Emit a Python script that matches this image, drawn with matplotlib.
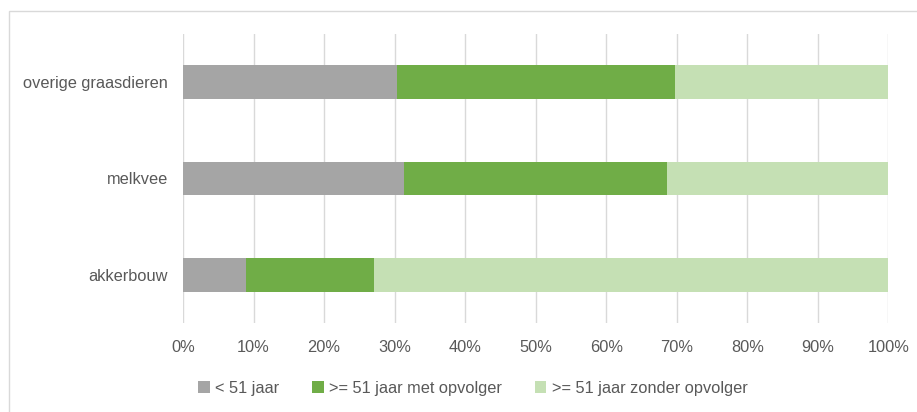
import matplotlib.pyplot as plt
import matplotlib.patches as plp
import matplotlib.ticker as mtick

# data (percent of farms)
categories = ['akkerbouw', 'melkvee', 'overige graasdieren']
under51 = [9.0, 31.3, 30.3]
over51_with = [18.1, 37.3, 39.4]
over51_without = [72.9, 31.4, 30.3]
seriesNames = ['< 51 jaar', '>= 51 jaar met opvolger', '>= 51 jaar zonder opvolger']
seriesColors = ['#a5a5a5', '#70ad47', '#c5e0b4']

plt.rcParams['font.family'] = ['Liberation Sans', 'DejaVu Sans']
textColor = '#595959'

fig = plt.figure(figsize=(9.17, 4.12), dpi=100)
ax = fig.add_axes([183 / 917, 1 - 323 / 412, 705.3 / 917, 289 / 412])

# light frame of the chart area (only top and left visible in the crop)
frame = plp.Rectangle((9 / 917, -0.1), 1.2, 1 - 11 / 412 + 0.1, transform=fig.transFigure,
                      facecolor='none', edgecolor='#d9d9d9', linewidth=1.0)
fig.patches.append(frame)

ypos = range(len(categories))
left = [0.0] * len(categories)
for name, vals, col in zip(seriesNames, [under51, over51_with, over51_without], seriesColors):
    ax.barh(ypos, vals, left=left, height=0.35, color=col, label=name, zorder=3)
    left = [l + v for l, v in zip(left, vals)]

ax.set_xlim(0, 100)
ax.set_ylim(-0.5, 2.5)
ax.set_xticks(range(0, 101, 10))
ax.xaxis.set_major_formatter(mtick.PercentFormatter(decimals=0))
ax.set_yticks(list(ypos))
ax.set_yticklabels(categories)
ax.grid(True, axis='x', color='#d9d9d9', linewidth=1.0, zorder=0)
ax.tick_params(axis='both', length=0, labelsize=11.8, colors=textColor)
ax.tick_params(axis='x', pad=12)
ax.tick_params(axis='y', pad=11)
for s in ax.spines.values():
    s.set_visible(False)

leg = fig.legend(loc='center', bbox_to_anchor=(473 / 917, 1 - 388 / 412), ncol=3, frameon=False,
                 fontsize=11.8, handlelength=0.7, handleheight=0.7, handletextpad=0.35,
                 columnspacing=2.0, labelcolor=textColor)

fig.savefig('out.png', dpi=100, facecolor='white')
